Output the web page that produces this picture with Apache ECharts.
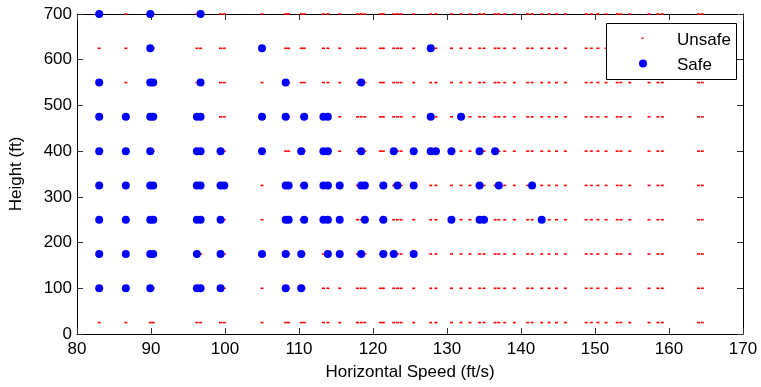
<!DOCTYPE html>
<html>
<head>
<meta charset="utf-8">
<script src="https://cdn.jsdelivr.net/npm/echarts@6/dist/echarts.min.js"></script>
<style>
html,body{margin:0;padding:0;background:#fff;}
#c{width:761px;height:387px;}
</style>
</head>
<body>
<div id="c"></div>
<script>
const speeds = [83.0, 86.6, 89.9, 90.3, 96.2, 96.7, 99.4, 99.9, 105.0, 108.2, 108.6, 110.3, 110.7, 113.3, 113.9, 115.5, 117.9, 118.4, 118.9, 121.0, 121.4, 122.8, 123.3, 123.8, 125.5, 127.8, 128.5, 130.6, 131.9, 133.1, 134.4, 135.0, 136.5, 137.0, 137.8, 139.1, 140.9, 141.5, 142.8, 143.8, 144.8, 146.0, 148.8, 149.5, 150.4, 151.5, 153.0, 153.5, 154.7, 157.3, 158.5, 159.1, 164.0, 164.5];
const heights = [25, 100, 175, 250, 325, 400, 475, 550, 625, 700];

const safe25 = [];
const safe100 = [83.0, 86.6, 89.9, 96.2, 96.7, 99.4, 108.2, 110.3];
const safe175 = [83.0, 86.6, 89.9, 90.3, 96.2, 99.4, 105.0, 108.2, 110.3, 113.9, 115.5, 118.4, 121.4, 122.8, 125.5];
const safe250 = [83.0, 86.6, 89.9, 90.3, 96.2, 96.7, 99.4, 108.2, 108.6, 110.7, 113.3, 113.9, 115.5, 118.9, 121.4, 130.6, 134.4, 135.0, 142.8];
const safe325 = [83.0, 86.6, 89.9, 90.3, 96.2, 96.7, 99.4, 99.9, 108.2, 108.6, 110.7, 113.3, 113.9, 115.5, 118.4, 118.9, 121.4, 123.3, 125.5, 134.4, 137.0, 141.5];
const safe400 = [83.0, 86.6, 89.9, 96.2, 96.7, 99.4, 105.0, 110.3, 113.3, 113.9, 118.4, 122.8, 125.5, 127.8, 128.5, 130.6, 134.4, 136.5];
const safe475 = [83.0, 86.6, 89.9, 90.3, 96.2, 96.7, 105.0, 108.2, 110.7, 113.3, 113.9, 127.8, 131.9];
const safe550 = [83.0, 89.9, 90.3, 96.7, 108.2, 118.4];
const safe625 = [89.9, 105.0, 127.8];
const safe700 = [83.0, 89.9, 96.7];

const xTicks = [80, 90, 100, 110, 120, 130, 140, 150, 160, 170];
const yTicks = [0, 100, 200, 300, 400, 500, 600, 700];
const legendNames = ['Unsafe', 'Safe'];

const safeRows = [safe25, safe100, safe175, safe250, safe325, safe400, safe475, safe550, safe625, safe700];
const safeData = [];
const unsafeData = [];
heights.forEach((h, i) => {
  speeds.forEach(x => {
    if (safeRows[i].includes(x)) safeData.push([x, h]);
    else unsafeData.push([x, h]);
  });
});

const FONT = 'Liberation Sans';
const chart = echarts.init(document.getElementById('c'), null, {renderer: 'canvas'});

const baseX = {
  type: 'value', min: xTicks[0], max: xTicks[xTicks.length - 1], interval: 10,
  splitLine: {show: false},
  axisLine: {show: true, onZero: false, lineStyle: {color: '#000', width: 1}},
  axisTick: {show: true, inside: true, length: 6, lineStyle: {color: '#333'}}
};
const baseY = {
  type: 'value', min: yTicks[0], max: yTicks[yTicks.length - 1], interval: 100,
  splitLine: {show: false},
  axisLine: {show: true, onZero: false, lineStyle: {color: '#000', width: 1}},
  axisTick: {show: true, inside: true, length: 6, lineStyle: {color: '#333'}}
};

chart.setOption({
  animation: false,
  backgroundColor: '#fff',
  grid: {left: 71, right: 18, top: 14, bottom: 53, containLabel: false},
  xAxis: [
    Object.assign({}, baseX, {
      position: 'bottom',
      name: 'Horizontal Speed (ft/s)', nameLocation: 'middle', nameGap: 30,
      nameTextStyle: {fontFamily: FONT, fontSize: 17, color: '#000'},
      axisLabel: {show: true, margin: 7, fontFamily: FONT, fontSize: 17, color: '#000'}
    }),
    Object.assign({}, baseX, {position: 'top', axisLabel: {show: false}})
  ],
  yAxis: [
    Object.assign({}, baseY, {
      position: 'left',
      name: 'Height (ft)', nameLocation: 'middle', nameGap: 52,
      nameTextStyle: {fontFamily: FONT, fontSize: 17, color: '#000'},
      axisLabel: {show: true, margin: 5, fontFamily: FONT, fontSize: 17, color: '#000'}
    }),
    Object.assign({}, baseY, {position: 'right', axisLabel: {show: false}})
  ],
  graphic: [
    {
      type: 'rect', z: 10, silent: true,
      shape: {x: 606.5, y: 23.5, width: 130, height: 56},
      style: {fill: '#fff', stroke: '#000', lineWidth: 1}
    },
    {
      type: 'rect', z: 11, silent: true,
      shape: {x: 641.5, y: 37.5, width: 2, height: 1.5},
      style: {fill: '#ff0000'}
    },
    {
      type: 'circle', z: 11, silent: true,
      shape: {cx: 643, cy: 63.5, r: 4},
      style: {fill: '#0000ff'}
    },
    {
      type: 'text', z: 11, silent: true, x: 677, y: 40,
      style: {text: legendNames[0], fill: '#000', font: '17px "Liberation Sans"', textVerticalAlign: 'middle', verticalAlign: 'middle'}
    },
    {
      type: 'text', z: 11, silent: true, x: 677, y: 65,
      style: {text: legendNames[1], fill: '#000', font: '17px "Liberation Sans"', textVerticalAlign: 'middle', verticalAlign: 'middle'}
    }
  ],
  series: [
    {
      name: legendNames[0], type: 'scatter', xAxisIndex: 0, yAxisIndex: 0,
      symbol: 'rect', symbolSize: [3, 1.6],
      itemStyle: {color: '#ff0000', opacity: 1},
      data: unsafeData, silent: true, z: 2
    },
    {
      name: legendNames[1], type: 'scatter', xAxisIndex: 0, yAxisIndex: 0,
      symbol: 'circle', symbolSize: 8,
      itemStyle: {color: '#0000ff', opacity: 1},
      data: safeData, silent: true, z: 3
    }
  ]
});
</script>
</body>
</html>
